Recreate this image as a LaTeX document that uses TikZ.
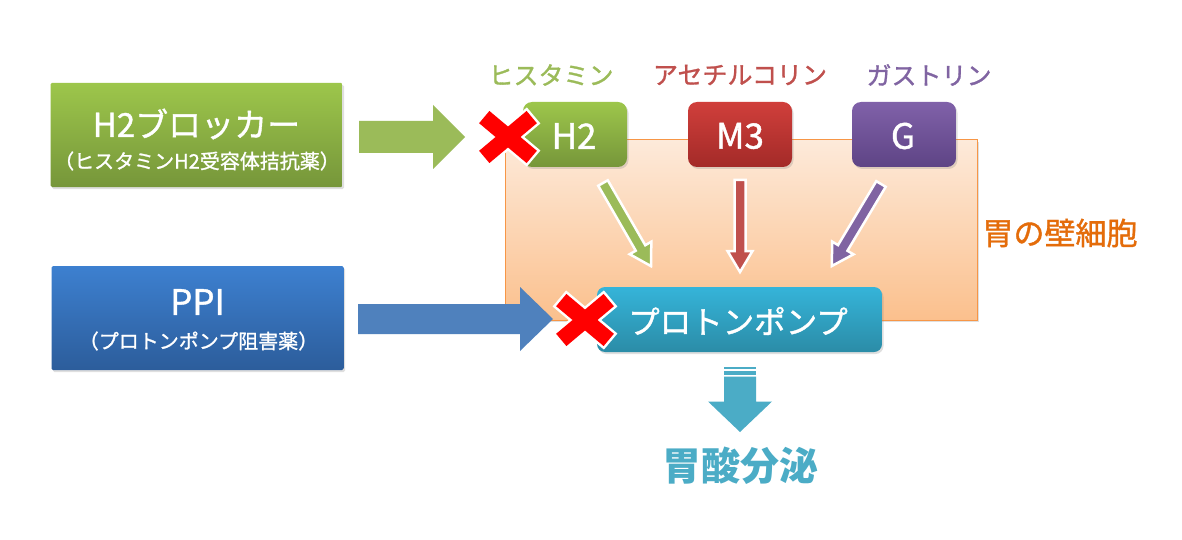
\documentclass[tikz,border=0pt]{standalone}
\usepackage{fontspec}
\setmainfont{Noto Sans CJK JP}
\newfontfamily\medfont{Noto Sans CJK JP}[FakeBold=1.2]
\usetikzlibrary{shadows}
\definecolor{gTop}{HTML}{9DC64B}
\definecolor{gBot}{HTML}{76963A}
\definecolor{gArr}{HTML}{9BBB59}
\definecolor{bTop}{HTML}{3D80D0}
\definecolor{bBot}{HTML}{2C5D9B}
\definecolor{bArr}{HTML}{4F81BD}
\definecolor{rTop}{HTML}{D03F3B}
\definecolor{rBot}{HTML}{A32A28}
\definecolor{rArr}{HTML}{C0504D}
\definecolor{pTop}{HTML}{8061A9}
\definecolor{pBot}{HTML}{5E4485}
\definecolor{pArr}{HTML}{8064A2}
\definecolor{tTop}{HTML}{35B4D9}
\definecolor{tBot}{HTML}{2B8CA7}
\definecolor{cTop}{HTML}{FDEADA}
\definecolor{cBot}{HTML}{FBC08D}
\definecolor{cBord}{HTML}{F79646}
\definecolor{oText}{HTML}{E46C0A}
\definecolor{acid}{HTML}{4BACC6}
\definecolor{xred}{HTML}{FF0000}
\newcommand\myfs[1]{\fontsize{#1pt}{#1pt}\selectfont}
\tikzset{
  box/.style={inner sep=0pt, drop shadow={opacity=0.25,shadow xshift=1.5pt,shadow yshift=-2pt}},
  bigbox/.style={box, minimum width=292pt, minimum height=104pt, rounded corners=1.5pt},
  smallbox/.style={box, minimum width=104pt, minimum height=65pt, rounded corners=9pt},
  wtext/.style={text=white, inner sep=0pt},
  thinarrow/.style={draw=white, line width=2.5pt, line join=miter},
}
% x, y, angle, length, colour
\newcommand\thinarr[5]{%
  \begin{scope}[shift={(#1,#2)},rotate=#3]
    \filldraw[thinarrow, fill=#5] (0,-5.5) -- (#4-21,-5.5) -- (#4-21,-12.5) -- (#4,0) -- (#4-21,12.5) -- (#4-21,5.5) -- (0,5.5) -- cycle;
  \end{scope}}
\newcommand\redx[2]{%
  \begin{scope}[shift={(#1,#2)}]
    \foreach \a in {40,-40}{\draw[white,line width=5pt,rotate=\a] (-31,-8) rectangle (31,8);}
    \foreach \a in {40,-40}{\fill[xred,rotate=\a] (-31,-8) rectangle (31,8);}
  \end{scope}}
\begin{document}
\begin{tikzpicture}[x=1pt,y=-1pt]
\useasboundingbox (0,0) rectangle (1182,540);
\fill[white] (0,0) rectangle (1182,540);

% left drug boxes
\node[bigbox, top color=gTop, bottom color=gBot] (h2b) at (196.5,135) {};
\node[wtext, font=\medfont\myfs{33}] (h2bt) at (196.5,124) {H2ブロッカー};
\node[wtext, font=\medfont\myfs{20}] (h2bs) at (197,161) {（ヒスタミンH2受容体拮抗薬）};

\node[bigbox, top color=bTop, bottom color=bBot] (ppi) at (197.5,318) {};
\node[wtext, font=\medfont\myfs{35}] (ppit) at (197.5,302) {PPI};
\node[wtext, font=\medfont\myfs{20}] (ppis) at (198.5,341) {（プロトンポンプ阻害薬）};

% parietal cell
\node[box, draw=cBord, line width=1pt, top color=cTop, bottom color=cBot, minimum width=472pt, minimum height=180pt] (cell) at (741,230) {};
\node[text=oText, inner sep=0pt, font=\medfont\myfs{31}] (cellt) at (1060,233) {胃の壁細胞};

% receptor labels
\node[text=gArr, inner sep=0pt, font=\medfont\myfs{25}] (lh) at (551,75) {ヒスタミン};
\node[text=rArr, inner sep=0pt, font=\medfont\myfs{25}] (la) at (740,75) {アセチルコリン};
\node[text=pArr, inner sep=0pt, font=\medfont\myfs{25}] (lg) at (929,75) {ガストリン};

% receptors
\node[smallbox, top color=gTop, bottom color=gBot] (h2) at (575,134.5) {};
\node[wtext, font=\medfont\myfs{35}] at (574,136) {H2};
\node[smallbox, top color=rTop, bottom color=rBot] (m3) at (740,134.5) {};
\node[wtext, font=\medfont\myfs{35}] at (740,136) {M3};
\node[smallbox, top color=pTop, bottom color=pBot] (g) at (904,134.5) {};
\node[wtext, font=\medfont\myfs{35}] at (903,136) {G};

% signalling arrows
\thinarr{603}{183}{-60}{96}{gArr}
\thinarr{740}{180}{-90}{92}{rArr}
\thinarr{881}{184}{-120.9}{95.5}{pArr}

% proton pump
\node[box, rounded corners=8pt, top color=tTop, bottom color=tBot, minimum width=285pt, minimum height=65pt] (pump) at (739.5,319.5) {};
\node[wtext, font=\medfont\myfs{31.5}] (pumpt) at (738,321) {プロトンポンプ};

% big arrows
\fill[gArr] (359,121) -- (433,121) -- (433,105) -- (465,137) -- (433,169) -- (433,153) -- (359,153) -- cycle;
\fill[bArr] (358,304) -- (520,304) -- (520,287) -- (553,319) -- (520,351) -- (520,334) -- (358,334) -- cycle;

% crosses
\redx{508}{137}
\redx{585}{320}

% acid output
\fill[acid] (724,366.5) rectangle (756,369);
\fill[acid] (724,370.8) rectangle (756,374.5);
\fill[acid] (724,376.5) -- (756,376.5) -- (756,401.5) -- (772,401.5) -- (740,432) -- (708,401.5) -- (724,401.5) -- cycle;
\node[text=acid, inner sep=0pt, font=\myfs{39}\bfseries] (acidt) at (740,466) {胃酸分泌};
\end{tikzpicture}
\end{document}
